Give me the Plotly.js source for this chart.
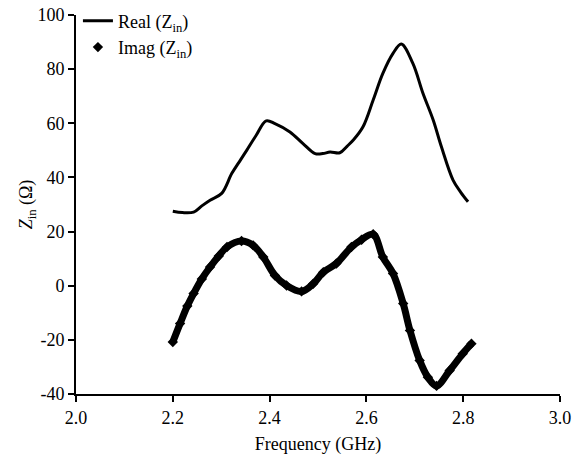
<!DOCTYPE html>
<html>
<head>
<meta charset="utf-8">
<script src="https://cdn.plot.ly/plotly-3.0.1.min.js"></script>
<style>html,body{margin:0;padding:0;background:#fff}#chart{width:584px;height:458px}</style>
</head>
<body>
<div id="chart"></div>
<script>
// Real part of input impedance
var realFreq = [2.200, 2.220, 2.243, 2.260, 2.277, 2.301, 2.322, 2.340, 2.353, 2.372, 2.393, 2.411, 2.442, 2.469, 2.494, 2.510, 2.525, 2.545, 2.560, 2.573, 2.593, 2.614, 2.634, 2.655, 2.672, 2.696, 2.717, 2.738, 2.755, 2.779, 2.795, 2.810];
var realZ = [27.5, 27.0, 27.2, 29.5, 31.6, 34.1, 41.5, 46.5, 50.1, 55.5, 60.9, 59.9, 56.8, 52.5, 48.8, 48.8, 49.4, 49.1, 51.5, 53.8, 58.7, 68.6, 78.4, 85.8, 89.3, 82.1, 71.0, 61.2, 51.3, 39.0, 34.5, 31.0];
// Imaginary part of input impedance
var imagFreq = [2.200, 2.215, 2.230, 2.243, 2.260, 2.277, 2.295, 2.312, 2.342, 2.366, 2.387, 2.411, 2.435, 2.466, 2.490, 2.511, 2.538, 2.569, 2.590, 2.614, 2.634, 2.655, 2.676, 2.690, 2.710, 2.727, 2.745, 2.772, 2.799, 2.817];
var imagZ = [-20.8, -14.0, -7.5, -2.9, 2.5, 6.9, 11.0, 14.3, 16.5, 14.9, 10.6, 3.8, 0.1, -2.1, 0.7, 5.0, 8.2, 14.3, 17.0, 19.0, 10.6, 4.5, -6.6, -16.5, -27.6, -33.8, -37.0, -31.3, -25.1, -21.4];
var xTickVals = [2.0, 2.2, 2.4, 2.6, 2.8, 3.0];
var xTickText = ['2.0', '2.2', '2.4', '2.6', '2.8', '3.0'];
var yTickVals = [-40, -20, 0, 20, 40, 60, 80, 100];
var yTickText = ['-40', '-20', '0', '20', '40', '60', '80', '100'];

var font = {family: 'Liberation Serif, Times New Roman, serif', size: 18, color: '#000'};

var traces = [
  {x: realFreq, y: realZ, type: 'scatter', mode: 'lines', name: 'Real (Z<sub>in</sub>)',
   line: {color: '#000', width: 3, shape: 'spline', smoothing: 1}},
  {x: imagFreq, y: imagZ, type: 'scatter', mode: 'lines', showlegend: false, hoverinfo: 'skip',
   line: {color: '#000', width: 7, shape: 'spline', smoothing: 1}},
  {x: imagFreq, y: imagZ, type: 'scatter', mode: 'markers', name: 'Imag (Z<sub>in</sub>)',
   marker: {symbol: 'diamond', size: 8, color: '#000'}}
];

var layout = {
  width: 584, height: 458,
  margin: {l: 76, r: 24, t: 15, b: 64, autoexpand: false},
  paper_bgcolor: '#fff', plot_bgcolor: '#fff',
  font: font,
  showlegend: true,
  legend: {x: 0.004, y: 1.033, xanchor: 'left', yanchor: 'top',
           bgcolor: 'rgba(0,0,0,0)', font: font, tracegroupgap: 0, itemwidth: 30},
  xaxis: {range: [2.0, 3.0], tickvals: xTickVals, ticktext: xTickText, showgrid: false, zeroline: false,
          showline: true, linecolor: '#000', linewidth: 2, ticks: 'outside', ticklen: 6, tickwidth: 2,
          tickcolor: '#000', tickfont: font, automargin: false,
          title: {text: 'Frequency (GHz)', font: font, standoff: 11}},
  yaxis: {range: [-40, 100], tickvals: yTickVals, ticktext: yTickText, showgrid: false, zeroline: false,
          showline: true, linecolor: '#000', linewidth: 2, ticks: 'outside', ticklen: 6, tickwidth: 2,
          tickcolor: '#000', tickfont: font, automargin: false,
          title: {text: '<i>Z</i><sub>in</sub> (Ω)', font: font, standoff: 0}}
};

Plotly.newPlot('chart', traces, layout, {staticPlot: true, displayModeBar: false});
</script>
</body>
</html>
